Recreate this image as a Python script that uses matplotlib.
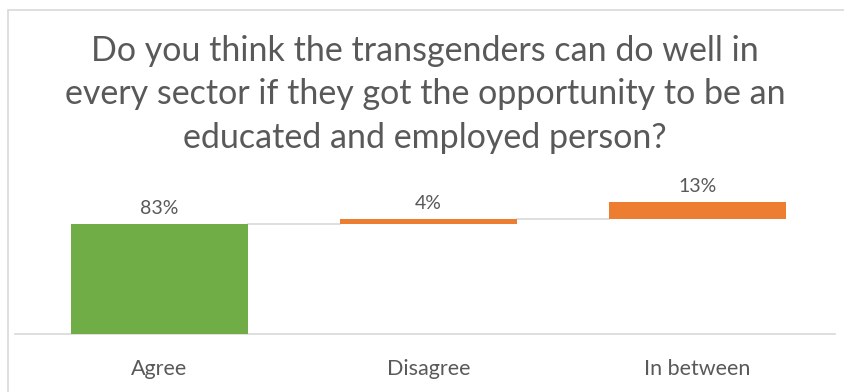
import matplotlib
matplotlib.use("Agg")
import matplotlib.pyplot as plt
from matplotlib.patches import Rectangle

categories = ["Agree", "Disagree", "In between"]
values = [83, 4, 13]
labels = ["83%", "4%", "13%"]
colors = ["#70AD47", "#ED7D31", "#ED7D31"]
title_lines = [
    "Do you think the transgenders can do well in",
    "every sector if they got the opportunity to be an",
    "educated and employed person?",
]

W, H, DPI = 844, 392, 100
fig = plt.figure(figsize=(W / DPI, H / DPI), dpi=DPI)
fig.patch.set_facecolor("white")

# chart frame
fig.patches.append(Rectangle((8 / W, -0.1), 1.2, (H - 10) / H + 0.1,
                             transform=fig.transFigure, fill=False,
                             edgecolor="#D9D9D9", linewidth=1.2))

FONT = "Lato"
TXT = "#595959"

# plot area: x 15..835 px, y 190..334 px
ax = fig.add_axes([15 / W, (H - 334) / H, (835 - 15) / W, (334 - 190) / H])
ax.set_xlim(-0.537, 2.511)
ax.set_ylim(0, (334 - 190) / 1.32)

# waterfall bottoms from running totals
bottoms = []
total = 0
for v in values:
    bottoms.append(total)
    total += v

x = list(range(len(categories)))
width = 0.66
ax.bar(x, values, bottom=bottoms, width=width, color=colors, zorder=3)

# connector lines between consecutive bars
for i in range(len(values) - 1):
    level = bottoms[i] + values[i]
    ax.plot([x[i] + width / 2, x[i + 1] - width / 2], [level, level],
            color="#D9D9D9", linewidth=1.2, zorder=2)

for xi, b, v, lab in zip(x, bottoms, values, labels):
    ax.annotate(lab, (xi, b + v), xytext=(0, 5), textcoords="offset points",
                ha="center", va="bottom", fontsize=14, color=TXT, family=FONT)

for s in ["top", "right", "left"]:
    ax.spines[s].set_visible(False)
ax.spines["bottom"].set_color("#D9D9D9")
ax.spines["bottom"].set_linewidth(1.2)
ax.set_yticks([])
ax.set_xticks(x)
ax.set_xticklabels(categories, fontsize=15.5, color=TXT, family=FONT)
ax.tick_params(axis="x", length=0, pad=18)
ax.patch.set_visible(False)

for i, line in enumerate(title_lines):
    fig.text(425 / W, 1 - (61 + 43.5 * i) / H, line, ha="center", va="baseline",
             fontsize=24.5, color=TXT, family=FONT)

fig.savefig("out.png", dpi=DPI)
